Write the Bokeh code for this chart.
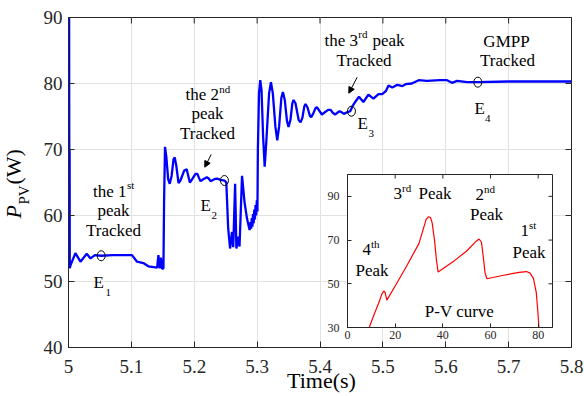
import numpy as np
from bokeh.plotting import figure
from bokeh.models import Range1d, FixedTicker, Label, Arrow, NormalHead
from bokeh.embed import file_html
from bokeh.resources import INLINE

# ---------------- data ----------------
time_s = [5.0010, 5.0012, 5.0018, 5.0020, 5.0030, 5.0110, 5.0190, 5.0290, 5.0350, 5.0420,
          5.0520, 5.0700, 5.1010, 5.1090, 5.1190, 5.1270, 5.1410, 5.1430, 5.1450, 5.1470,
          5.1490, 5.1510, 5.1520, 5.1535, 5.1555, 5.1585, 5.1610, 5.1640, 5.1670, 5.1690,
          5.1715, 5.1750, 5.1780, 5.1840, 5.1880, 5.1905, 5.1930, 5.1960, 5.2020, 5.2050,
          5.2075, 5.2100, 5.2130, 5.2200, 5.2230, 5.2260, 5.2320, 5.2360, 5.2420, 5.2480,
          5.2510, 5.2540, 5.2570, 5.2600, 5.2620, 5.2650, 5.2670, 5.2700, 5.2720, 5.2760,
          5.2800, 5.2840, 5.2880, 5.2895, 5.2905, 5.2915, 5.2925, 5.2935, 5.2945, 5.2955,
          5.2965, 5.2975, 5.2985, 5.2995, 5.3005, 5.3012, 5.3030, 5.3050, 5.3070, 5.3095,
          5.3120, 5.3145, 5.3190, 5.3220, 5.3250, 5.3290, 5.3320, 5.3350, 5.3385, 5.3410,
          5.3440, 5.3475, 5.3500, 5.3530, 5.3560, 5.3580, 5.3610, 5.3660, 5.3690, 5.3720,
          5.3750, 5.3770, 5.3800, 5.3840, 5.3860, 5.3890, 5.3930, 5.3950, 5.3980, 5.4030,
          5.4070, 5.4130, 5.4170, 5.4200, 5.4240, 5.4280, 5.4310, 5.4350, 5.4380, 5.4420,
          5.4480, 5.4520, 5.4560, 5.4620, 5.4690, 5.4770, 5.4850, 5.4930, 5.4990, 5.5050,
          5.5090, 5.5150, 5.5230, 5.5310, 5.5360, 5.5460, 5.5570, 5.5700, 5.5910, 5.6020,
          5.6100, 5.6180, 5.6340, 5.6510, 5.7000, 5.8000]
p_pv = [90.0, 70.0, 69.8, 52.0, 52.4, 54.3, 53.0, 54.2, 53.5, 54.0,
        53.9, 54.0, 54.0, 53.0, 52.8, 52.3, 52.1, 54.0, 52.0, 53.6,
        51.9, 52.0, 62.0, 70.4, 69.0, 65.5, 64.8, 66.0, 68.5, 68.8,
        67.5, 64.9, 65.3, 66.8, 67.0, 66.0, 65.0, 65.4, 66.3, 66.3,
        65.7, 65.2, 65.4, 65.8, 65.6, 65.2, 65.5, 65.6, 65.4, 65.3,
        65.0, 58.0, 55.0, 57.5, 55.2, 64.8, 55.0, 56.8, 55.3, 66.0,
        62.0, 59.5, 57.8, 59.0, 58.0, 59.6, 58.3, 60.2, 58.8, 60.9,
        59.4, 61.6, 60.0, 62.3, 60.6, 70.0, 78.5, 80.5, 79.0, 72.0,
        67.4, 71.0, 78.5, 80.2, 78.5, 73.5, 71.4, 73.5, 77.8, 78.7,
        77.5, 74.3, 73.4, 74.5, 77.0, 77.5, 77.0, 74.5, 74.1, 74.8,
        76.5, 76.9, 76.4, 75.1, 74.9, 75.4, 76.3, 76.4, 76.0, 75.3,
        75.6, 76.0, 76.0, 75.6, 75.3, 75.6, 75.8, 75.6, 75.4, 75.6,
        75.8, 76.6, 77.2, 78.0, 77.2, 78.3, 77.7, 78.4, 78.4, 78.9,
        79.7, 79.4, 79.8, 79.6, 79.9, 80.0, 80.5, 80.4, 80.5, 80.5,
        80.1, 80.4, 80.2, 80.2, 80.3, 80.3]

e_time = [5.052, 5.248, 5.450, 5.651]
e_power = [53.9, 65.3, 75.8, 80.2]

x_ticks = [5.0, 5.1, 5.2, 5.3, 5.4, 5.5, 5.6, 5.7, 5.8]
x_tick_labels = ["5", "5.1", "5.2", "5.3", "5.4", "5.5", "5.6", "5.7", "5.8"]
y_ticks = [40, 50, 60, 70, 80, 90]

# inset P-V curve
pv_voltage = [9.1, 11.0, 13.0, 14.5, 15.2, 15.8, 16.5, 20.0, 25.0, 30.0, 33.0, 34.0, 34.8,
              35.5, 36.5, 37.3, 38.0, 45.0, 50.0, 54.0, 55.2, 56.2, 57.0, 57.7, 58.5,
              65.0, 72.0, 75.0, 76.5, 78.0, 79.2, 79.8, 80.3]
pv_power = [30.0, 35.5, 41.0, 45.5, 46.7, 46.0, 42.5, 49.0, 58.5, 68.5, 79.5, 80.7, 80.3,
            78.0, 70.0, 61.0, 55.4, 60.7, 65.0, 69.5, 70.5, 69.0, 62.0, 55.0, 52.3,
            53.8, 55.2, 55.6, 55.0, 52.5, 46.0, 38.0, 30.0]
inset_x_ticks = [0, 20, 40, 60, 80]
inset_y_ticks = [30, 50, 70, 90]

FONT = "Liberation Serif"
AX = "#262626"
GRID = "#e2e2e2"
SHIFT = 0.4  # baseline correction, in em

# frame position of the main plot on the canvas
FL, FB = 68, 347
# frame position of the inset
IL, IB = 347, 327
W, H = 584, 396


def style_axis(ax, size, tick_in, standoff):
    ax.axis_line_color = AX
    ax.axis_line_width = 1
    ax.major_tick_in = tick_in
    ax.major_tick_out = 0
    ax.major_tick_line_color = AX
    ax.minor_tick_line_color = None
    ax.major_label_text_font = FONT
    ax.major_label_text_color = AX
    ax.major_label_text_font_size = size
    ax.major_label_standoff = standoff


# ---------------- main figure ----------------
p = figure(width=W, height=H, x_range=Range1d(5.0, 5.8), y_range=Range1d(40, 90),
           output_backend="svg", toolbar_location=None,
           min_border_left=68, min_border_right=13, min_border_top=17, min_border_bottom=49)
p.background_fill_color = "white"
p.border_fill_color = "white"
p.outline_line_color = AX
p.xaxis.ticker = FixedTicker(ticks=x_ticks)
p.xaxis.major_label_overrides = dict(zip(x_ticks, x_tick_labels))
p.yaxis.ticker = FixedTicker(ticks=y_ticks)
style_axis(p.xaxis[0], "19px", 6, 12)
style_axis(p.yaxis[0], "19px", 6, 6)
p.xgrid.grid_line_color = GRID
p.ygrid.grid_line_color = GRID

# tick marks on the top and right edges of the box (half of each dash is clipped away)
p.scatter(x_ticks, [90] * len(x_ticks), marker="dash", angle=np.pi / 2, size=12,
          line_color=AX, line_width=1)
p.scatter([5.8] * len(y_ticks), y_ticks, marker="dash", size=12, line_color=AX, line_width=1)

p.line(time_s, p_pv, line_color="#0000ff", line_width=2.3)
p.ellipse(x=e_time, y=e_power, width=8, height=10, width_units="screen",
          height_units="screen", fill_color=None, line_color="black", line_width=1)


def lab(fig, ox, oy, text, px, py, size=17, align="left", style="normal", angle=0.0):
    if angle == 0.0:
        py = py - SHIFT * size
    else:
        px = px - SHIFT * size
    fig.add_layout(Label(x=px - ox, y=oy - py, x_units="screen", y_units="screen",
                         text=text, text_font=FONT, text_font_size=f"{size}px",
                         text_font_style=style, text_color="black", text_align=align,
                         text_baseline="alphabetic", angle=angle))


def mlab(*a, **k):
    lab(p, FL, FB, *a, **k)


# annotations - 1st peak
mlab("the 1", 92.6, 198)
mlab("st", 126.4, 189, size=11)
mlab("peak", 113, 217, align="center")
mlab("Tracked", 113, 237, align="center")
mlab("E", 93, 289)
mlab("1", 105, 296, size=11)
# 2nd peak
mlab("the 2", 185, 101)
mlab("nd", 218.8, 93, size=11)
mlab("peak", 207, 120, align="center")
mlab("Tracked", 207, 140, align="center")
mlab("E", 200, 212)
mlab("2", 211, 219, size=11)
# 3rd peak
mlab("the 3", 324, 47)
mlab("rd", 357.8, 38, size=11)
mlab("peak", 372, 47)
mlab("Tracked", 363.5, 67, align="center")
mlab("E", 357, 130)
mlab("3", 368, 137, size=11)
# GMPP
mlab("GMPP", 506, 48, align="center")
mlab("Tracked", 507, 67, align="center")
mlab("E", 474, 115)
mlab("4", 484.5, 122, size=11)

for (xs, ys, xe, ye) in [(210.7, 154, 204.3, 166.7), (356.7, 76.7, 348.3, 92.7)]:
    p.add_layout(Arrow(end=NormalHead(size=6, fill_color="black", line_color="black"),
                       x_start=xs - FL, y_start=FB - ys, x_end=xe - FL, y_end=FB - ye,
                       start_units="screen", end_units="screen",
                       line_color="black", line_width=1))

# ---------------- inset ----------------
q = figure(width=239, height=177, x_range=Range1d(0, 86), y_range=Range1d(30, 100),
           output_backend="svg", toolbar_location=None,
           min_border_left=30, min_border_right=4, min_border_top=4, min_border_bottom=20,
           styles={"position": "absolute", "left": "317px", "top": "170px"})
q.border_fill_color = None
q.background_fill_color = "white"
q.outline_line_color = AX
q.grid.visible = False
q.xaxis.ticker = FixedTicker(ticks=inset_x_ticks)
q.yaxis.ticker = FixedTicker(ticks=inset_y_ticks)
style_axis(q.xaxis[0], "12px", 4, 3)
style_axis(q.yaxis[0], "12px", 4, 8)
q.scatter(inset_x_ticks, [100] * len(inset_x_ticks), marker="dash", angle=np.pi / 2, size=8,
          line_color=AX, line_width=1)
q.scatter([86] * len(inset_y_ticks), inset_y_ticks, marker="dash", size=8,
          line_color=AX, line_width=1)

q.line(pv_voltage, pv_power, line_color="#ff0000", line_width=1.2)


def ilab(*a, **k):
    lab(q, IL, IB, *a, **k)


ilab("3", 393, 200)
ilab("rd", 401.5, 192, size=11)
ilab("Peak", 418, 200)
ilab("2", 475, 201)
ilab("nd", 483.5, 193, size=11)
ilab("Peak", 486, 221, align="center")
ilab("1", 520, 237)
ilab("st", 528.5, 229, size=11)
ilab("Peak", 528.5, 259, align="center")
ilab("4", 362, 256)
ilab("th", 370.5, 248, size=11)
ilab("Peak", 371.5, 277, align="center")
ilab("P-V curve", 459, 318, align="center")

# ---------------- transparent overlay for the axis titles ----------------
r = figure(width=W, height=H, x_range=Range1d(0, 1), y_range=Range1d(0, 1),
           x_axis_type=None, y_axis_type=None, output_backend="svg",
           toolbar_location=None, min_border=0,
           styles={"position": "absolute", "left": "0px", "top": "0px"})
r.background_fill_color = None
r.border_fill_color = None
r.outline_line_color = None
r.grid.visible = False


def olab(*a, **k):
    lab(r, 0, H, *a, **k)


olab("Time(s)", 321, 389, size=22, align="center")
olab("P", 22, 218, size=22, style="italic", angle=np.pi / 2)
olab("PV", 29, 204, size=15, angle=np.pi / 2)
olab("(W)", 22, 184, size=22, angle=np.pi / 2)

open("out.html", "w").write(file_html([p, q, r], INLINE))
